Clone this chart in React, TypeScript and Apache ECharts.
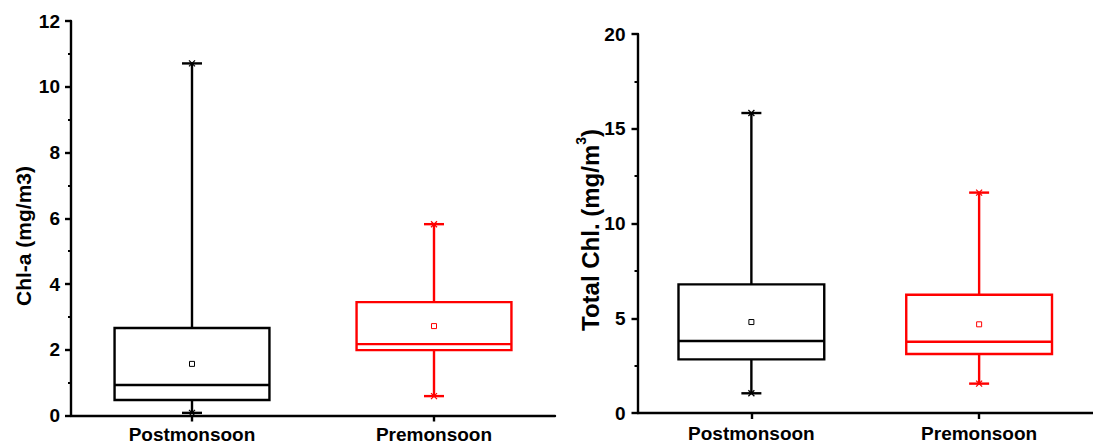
import React, { useEffect, useRef } from "react";
import * as echarts from "echarts";

// ---- data ----
const categories = ["Postmonsoon", "Premonsoon"];
const seasonColors = ["#000000", "#ff0000"];
// [min, Q1, median, Q3, max]
const chlaPost = [0.08, 0.47, 0.93, 2.66, 10.71];
const chlaPre = [0.59, 1.99, 2.17, 3.45, 5.82];
const chlaMeans = [1.57, 2.72];
const totalPost = [1.04, 2.83, 3.8, 6.79, 15.83];
const totalPre = [1.55, 3.11, 3.76, 6.24, 11.63];
const totalMeans = [4.8, 4.68];
const chlaTicks = { min: 0, max: 12, interval: 2 };
const totalTicks = { min: 0, max: 20, interval: 5 };

const FONT = '"Liberation Sans", Arial, Helvetica, sans-serif';
const LW = 2.4;

function renderBox(params: any, api: any) {
  const i = api.value(0);
  const pt = (k: number) => api.coord([i, api.value(k)]);
  const [cx, yMin] = pt(1);
  const yQ1 = pt(2)[1];
  const yMed = pt(3)[1];
  const yQ3 = pt(4)[1];
  const yMax = pt(5)[1];
  const yMean = pt(6)[1];
  const bw = api.size([1, 0])[0] * 0.32;
  const color = seasonColors[i];
  const ls = { stroke: color, lineWidth: LW };
  const cap = 10;
  const m = 3;
  const cross = (y: number) => [
    { type: "line", shape: { x1: cx - m, y1: y - m, x2: cx + m, y2: y + m }, style: { stroke: color, lineWidth: 1.3 } },
    { type: "line", shape: { x1: cx - m, y1: y + m, x2: cx + m, y2: y - m }, style: { stroke: color, lineWidth: 1.3 } },
  ];
  return {
    type: "group",
    children: [
      { type: "line", shape: { x1: cx, y1: yQ3, x2: cx, y2: yMax }, style: ls },
      { type: "line", shape: { x1: cx, y1: yQ1, x2: cx, y2: yMin }, style: ls },
      { type: "line", shape: { x1: cx - cap, y1: yMax, x2: cx + cap, y2: yMax }, style: ls },
      { type: "line", shape: { x1: cx - cap, y1: yMin, x2: cx + cap, y2: yMin }, style: ls },
      ...cross(yMax),
      ...cross(yMin),
      {
        type: "rect",
        shape: { x: cx - bw, y: yQ3, width: bw * 2, height: yQ1 - yQ3 },
        style: { stroke: color, lineWidth: LW, fill: "#ffffff" },
      },
      { type: "line", shape: { x1: cx - bw, y1: yMed, x2: cx + bw, y2: yMed }, style: ls },
      {
        type: "rect",
        shape: { x: cx - 2.5, y: yMean - 2.5, width: 5, height: 5 },
        style: { stroke: color, lineWidth: 1, fill: "#ffffff" },
      },
    ],
  };
}

function makeData(post: number[], pre: number[], means: number[]) {
  return [
    [0, ...post, means[0]],
    [1, ...pre, means[1]],
  ];
}

const xAxisBase = (gridIndex: number, margin: number) => ({
  type: "category",
  gridIndex,
  data: categories,
  boundaryGap: true,
  axisLine: { show: true, lineStyle: { color: "#000", width: LW } },
  axisTick: { show: true, alignWithLabel: true, length: 6, lineStyle: { color: "#000", width: LW } },
  axisLabel: { color: "#000", fontSize: 19, fontWeight: "bold", fontFamily: FONT, margin },
  splitLine: { show: false },
});

const yAxisBase = (gridIndex: number, t: { min: number; max: number; interval: number }, margin: number) => ({
  type: "value",
  gridIndex,
  min: t.min,
  max: t.max,
  interval: t.interval,
  axisLine: { show: true, lineStyle: { color: "#000", width: LW } },
  axisTick: { show: true, length: 6, lineStyle: { color: "#000", width: LW } },
  minorTick: { show: true, splitNumber: 2, length: 3, lineStyle: { color: "#000", width: 2 } },
  axisLabel: { color: "#000", fontSize: 19, fontWeight: "bold", fontFamily: FONT, margin },
  splitLine: { show: false },
  minorSplitLine: { show: false },
});

export default function App() {
  const ref = useRef<HTMLDivElement>(null);
  useEffect(() => {
    if (!ref.current) return;
    const chart = echarts.init(ref.current, null, { renderer: "svg" });
    chart.setOption({
      animation: false,
      backgroundColor: "#ffffff",
      grid: [
        { left: 71, top: 21, width: 484, height: 394.5 },
        { left: 637.5, top: 34, width: 466, height: 379 },
      ],
      xAxis: [xAxisBase(0, 9), xAxisBase(1, 11)],
      yAxis: [yAxisBase(0, chlaTicks, 11), yAxisBase(1, totalTicks, 12)],
      series: [
        {
          type: "custom",
          xAxisIndex: 0,
          yAxisIndex: 0,
          clip: false,
          renderItem: renderBox,
          encode: { x: 0, y: [1, 2, 3, 4, 5] },
          data: makeData(chlaPost, chlaPre, chlaMeans),
        },
        {
          type: "custom",
          xAxisIndex: 1,
          yAxisIndex: 1,
          clip: false,
          renderItem: renderBox,
          encode: { x: 0, y: [1, 2, 3, 4, 5] },
          data: makeData(totalPost, totalPre, totalMeans),
        },
      ],
      graphic: [
        {
          type: "text",
          x: 23,
          y: 236,
          rotation: Math.PI / 2,
          style: {
            text: "Chl-a (mg/m3)",
            fill: "#000",
            fontSize: 21,
            fontWeight: "bold",
            fontFamily: FONT,
            align: "center",
            verticalAlign: "middle",
          },
        },
        {
          type: "text",
          x: 588,
          y: 230,
          rotation: Math.PI / 2,
          style: {
            text: "{a|Total Chl. (mg/m}{s|3}{a|)}",
            fill: "#000",
            align: "center",
            verticalAlign: "middle",
            rich: {
              a: { fontSize: 24, fontWeight: "bold", fontFamily: FONT, fill: "#000", lineHeight: 28, verticalAlign: "bottom" },
              s: { fontSize: 14, fontWeight: "bold", fontFamily: FONT, fill: "#000", lineHeight: 14, verticalAlign: "top" },
            },
          },
        },
      ],
    });
    return () => chart.dispose();
  }, []);
  return (
    <div
      ref={ref}
      style={{ position: "fixed", left: 0, top: 0, width: 1093, height: 445 }}
    />
  );
}
